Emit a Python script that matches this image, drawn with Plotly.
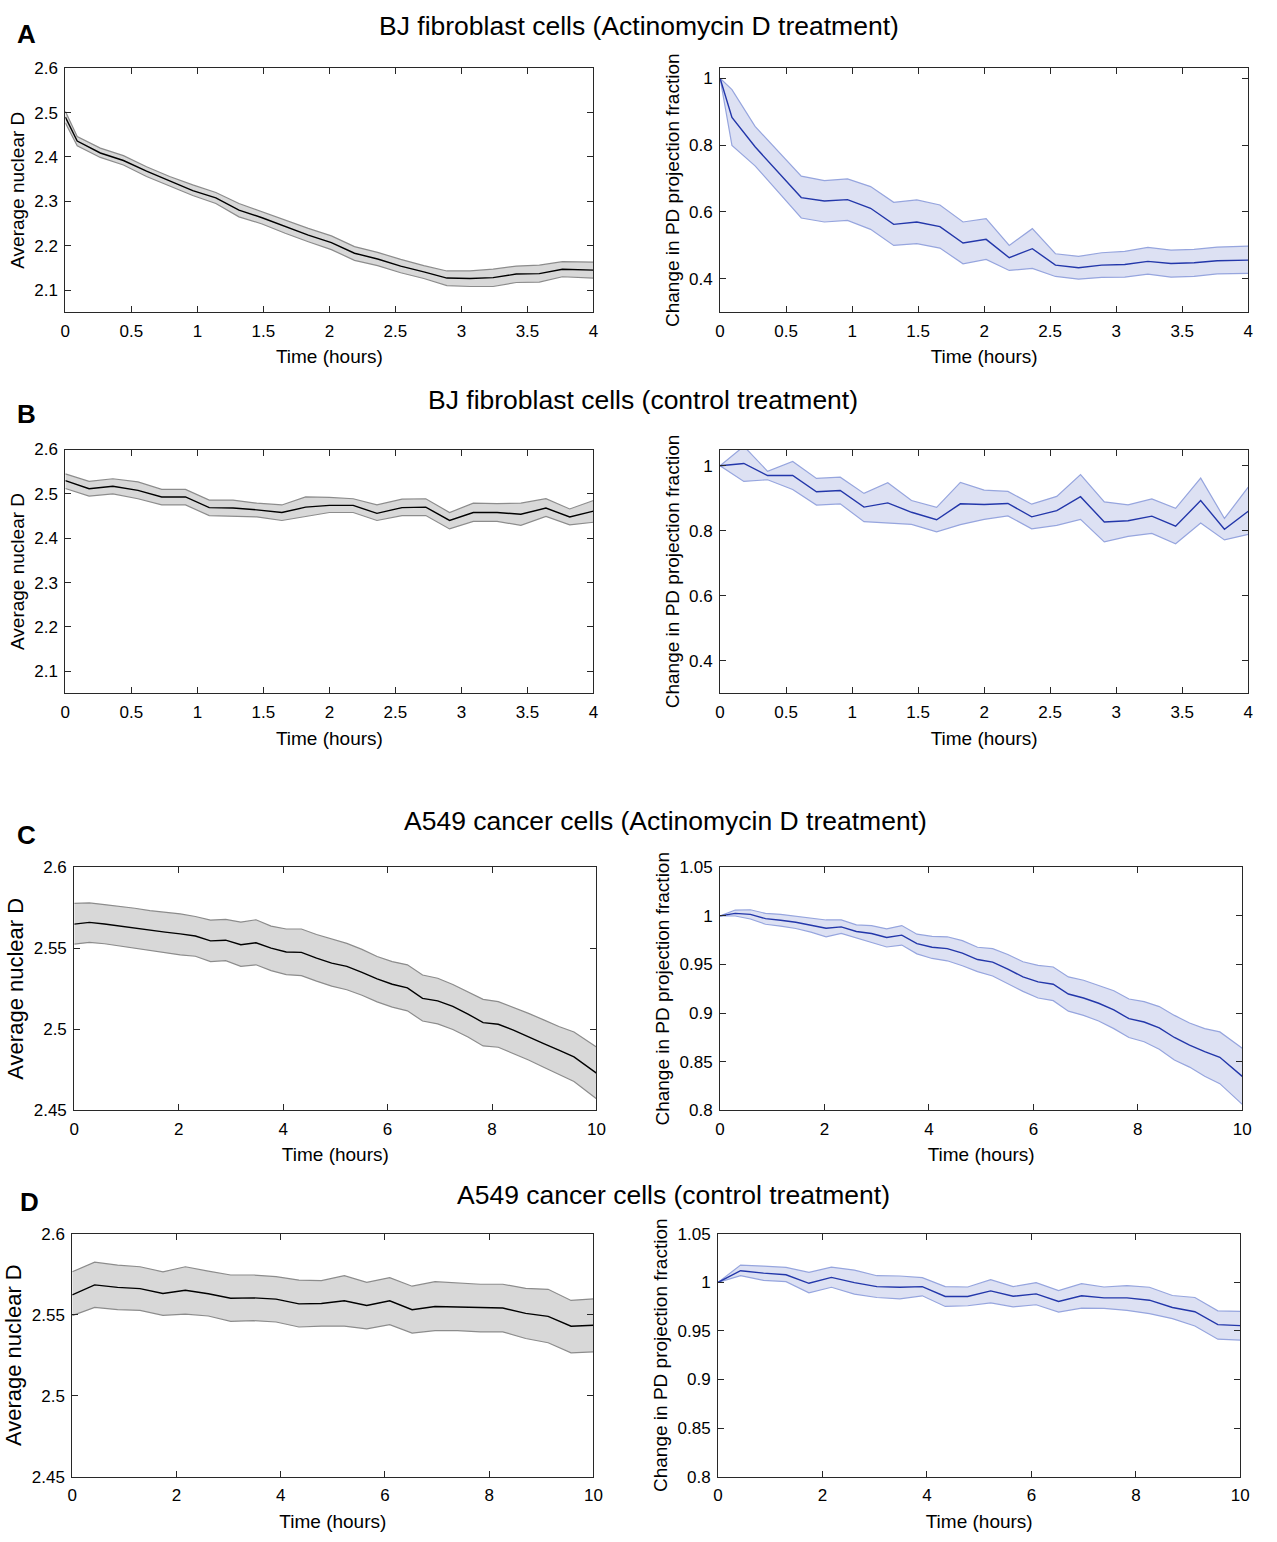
import plotly.graph_objects as go

W, H = 1277, 1542

# ---------------- data ----------------
# Panel A: BJ fibroblast cells (Actinomycin D treatment)
a_time = [0, 0.09, 0.265, 0.44, 0.615, 0.79, 0.965, 1.14, 1.315, 1.49, 1.665, 1.84,
          2.015, 2.19, 2.365, 2.54, 2.715, 2.89, 3.065, 3.24, 3.415, 3.59, 3.765, 4.0]
a_d_mean = [2.490, 2.436, 2.409, 2.392, 2.368, 2.346, 2.324, 2.308, 2.280, 2.263, 2.243, 2.224,
            2.207, 2.183, 2.170, 2.154, 2.141, 2.127, 2.126, 2.128, 2.136, 2.137, 2.147, 2.145]
a_d_upper = [2.503, 2.446, 2.420, 2.403, 2.378, 2.356, 2.337, 2.320, 2.295, 2.276, 2.258, 2.239,
             2.222, 2.198, 2.185, 2.169, 2.155, 2.143, 2.143, 2.147, 2.154, 2.156, 2.164, 2.163]
a_d_lower = [2.477, 2.425, 2.399, 2.382, 2.356, 2.335, 2.313, 2.295, 2.265, 2.249, 2.228, 2.209,
             2.191, 2.167, 2.155, 2.139, 2.126, 2.110, 2.108, 2.108, 2.117, 2.118, 2.130, 2.127]
a_pd_mean = [1.0, 0.883, 0.795, 0.720, 0.643, 0.633, 0.637, 0.611, 0.563, 0.570, 0.556, 0.507,
             0.518, 0.463, 0.490, 0.441, 0.433, 0.441, 0.443, 0.452, 0.446, 0.448, 0.454, 0.456]
a_pd_upper = [1.0, 0.966, 0.856, 0.782, 0.707, 0.694, 0.699, 0.676, 0.629, 0.636, 0.621, 0.570,
              0.580, 0.500, 0.550, 0.475, 0.467, 0.478, 0.482, 0.494, 0.486, 0.488, 0.495, 0.498]
a_pd_lower = [1.0, 0.799, 0.738, 0.660, 0.582, 0.570, 0.575, 0.548, 0.500, 0.505, 0.492, 0.445,
              0.458, 0.425, 0.431, 0.407, 0.399, 0.404, 0.405, 0.414, 0.405, 0.407, 0.415, 0.416]

# Panel B: BJ fibroblast cells (control treatment)
b_time = [0, 0.18, 0.36, 0.55, 0.73, 0.91, 1.09, 1.27, 1.45, 1.64, 1.82, 2.0,
          2.18, 2.36, 2.55, 2.73, 2.91, 3.09, 3.27, 3.45, 3.64, 3.82, 4.0]
b_d_mean = [2.530, 2.5115, 2.517, 2.508, 2.493, 2.493, 2.469, 2.468, 2.464, 2.458, 2.470, 2.474,
            2.474, 2.456, 2.469, 2.470, 2.440, 2.458, 2.458, 2.454, 2.468, 2.448, 2.461]
b_d_upper = [2.545, 2.528, 2.534, 2.527, 2.510, 2.510, 2.486, 2.486, 2.479, 2.475, 2.493, 2.492,
             2.489, 2.475, 2.488, 2.489, 2.458, 2.479, 2.478, 2.479, 2.489, 2.466, 2.485]
b_d_lower = [2.512, 2.495, 2.500, 2.489, 2.475, 2.475, 2.451, 2.450, 2.448, 2.440, 2.449, 2.458,
             2.458, 2.440, 2.451, 2.451, 2.421, 2.438, 2.438, 2.429, 2.449, 2.430, 2.436]
b_pd_mean = [1.0, 1.007, 0.970, 0.970, 0.920, 0.924, 0.873, 0.886, 0.857, 0.834, 0.883, 0.881,
             0.884, 0.843, 0.862, 0.905, 0.827, 0.831, 0.845, 0.814, 0.893, 0.805, 0.860]
b_pd_upper = [1.0, 1.060, 0.983, 1.013, 0.961, 0.965, 0.915, 0.948, 0.893, 0.872, 0.949, 0.925,
              0.921, 0.882, 0.906, 0.973, 0.889, 0.880, 0.898, 0.869, 0.962, 0.838, 0.934]
b_pd_lower = [1.0, 0.952, 0.957, 0.927, 0.879, 0.883, 0.828, 0.824, 0.820, 0.797, 0.819, 0.835,
              0.846, 0.806, 0.817, 0.835, 0.766, 0.783, 0.792, 0.760, 0.824, 0.772, 0.789]

# Panel C: A549 cancer cells (Actinomycin D treatment)
c_time = [0, 0.29, 0.58, 0.87, 1.16, 1.45, 1.74, 2.03, 2.32, 2.61, 2.9, 3.19, 3.48, 3.77,
          4.06, 4.35, 4.64, 4.93, 5.22, 5.51, 5.8, 6.09, 6.38, 6.67, 6.96, 7.25, 7.54, 7.83,
          8.12, 8.41, 8.7, 8.99, 9.28, 9.57, 10.0]
c_d_mean = [2.5649, 2.5660, 2.5650, 2.5637, 2.5623, 2.5610, 2.5600, 2.5589, 2.5576, 2.5546,
            2.5550, 2.5522, 2.5534, 2.5501, 2.5477, 2.5475, 2.5439, 2.5408, 2.5388, 2.5351,
            2.5311, 2.5278, 2.5256, 2.5191, 2.5175, 2.5141, 2.5094, 2.5041, 2.5031, 2.4995,
            2.4956, 2.4912, 2.4871, 2.4830, 2.4729]
c_d_upper = [2.5777, 2.5780, 2.5770, 2.5760, 2.5747, 2.5732, 2.5722, 2.5712, 2.5696, 2.5674,
             2.5678, 2.5662, 2.5676, 2.5637, 2.5619, 2.5619, 2.5585, 2.5556, 2.5530, 2.5493,
             2.5449, 2.5418, 2.5398, 2.5335, 2.5315, 2.5276, 2.5230, 2.5185, 2.5171, 2.5135,
             2.5098, 2.5058, 2.5017, 2.4983, 2.4891]
c_d_lower = [2.5526, 2.5536, 2.5528, 2.5514, 2.5500, 2.5485, 2.5473, 2.5459, 2.5451, 2.5418,
             2.5424, 2.5388, 2.5398, 2.5362, 2.5337, 2.5331, 2.5297, 2.5266, 2.5244, 2.5210,
             2.5169, 2.5137, 2.5114, 2.5051, 2.5033, 2.4999, 2.4952, 2.4897, 2.4889, 2.4851,
             2.4810, 2.4766, 2.4723, 2.4678, 2.4571]
c_pd_mean = [1.0, 1.0026, 1.0016, 0.9972, 0.9955, 0.9934, 0.9904, 0.9873, 0.9887, 0.9839,
             0.9819, 0.9778, 0.9802, 0.9714, 0.9677, 0.9663, 0.9616, 0.9551, 0.9524, 0.9453,
             0.9372, 0.9321, 0.9297, 0.9196, 0.9155, 0.9101, 0.9033, 0.8942, 0.8908, 0.8847,
             0.8749, 0.8671, 0.8603, 0.8545, 0.8349]
c_pd_upper = [1.0, 1.0060, 1.0063, 1.0026, 1.0016, 0.9999, 0.9975, 0.9958, 0.9958, 0.9907,
              0.9900, 0.9867, 0.9900, 0.9812, 0.9789, 0.9785, 0.9745, 0.9677, 0.9663, 0.9602,
              0.9528, 0.9490, 0.9474, 0.9372, 0.9338, 0.9287, 0.9230, 0.9145, 0.9118, 0.9067,
              0.8976, 0.8898, 0.8840, 0.8806, 0.8637]
c_pd_lower = [1.0, 0.9999, 0.9968, 0.9914, 0.9894, 0.9870, 0.9833, 0.9785, 0.9819, 0.9772,
              0.9731, 0.9680, 0.9700, 0.9609, 0.9562, 0.9538, 0.9487, 0.9426, 0.9382, 0.9304,
              0.9223, 0.9155, 0.9128, 0.9020, 0.8976, 0.8918, 0.8840, 0.8749, 0.8705, 0.8627,
              0.8518, 0.8444, 0.8349, 0.8274, 0.8061]

# Panel D: A549 cancer cells (control treatment)
d_time = [0, 0.43, 0.87, 1.3, 1.74, 2.17, 2.61, 3.04, 3.48, 3.91, 4.35, 4.78,
          5.22, 5.65, 6.09, 6.52, 6.96, 7.39, 7.83, 8.26, 8.7, 9.13, 9.57, 10.0]
d_d_mean = [2.5622, 2.5684, 2.5669, 2.5661, 2.5631, 2.5651, 2.5629, 2.5602, 2.5604, 2.5596,
            2.5567, 2.5569, 2.5586, 2.5557, 2.5586, 2.5531, 2.5551, 2.5547, 2.5541, 2.5541,
            2.5508, 2.5490, 2.5429, 2.5435]
d_d_upper = [2.5765, 2.5824, 2.5806, 2.5796, 2.5765, 2.5796, 2.5769, 2.5745, 2.5745, 2.5735,
             2.5714, 2.5710, 2.5741, 2.5700, 2.5729, 2.5676, 2.5704, 2.5694, 2.5688, 2.5688,
             2.5663, 2.5657, 2.5588, 2.5598]
d_d_lower = [2.5494, 2.5545, 2.5531, 2.5527, 2.5496, 2.5504, 2.5492, 2.5459, 2.5463, 2.5455,
             2.5424, 2.5429, 2.5429, 2.5412, 2.5439, 2.5386, 2.5402, 2.5402, 2.5394, 2.5394,
             2.5353, 2.5327, 2.5265, 2.5271]
d_pd_mean = [1.0, 1.0119, 1.0095, 1.0078, 0.9990, 1.0051, 0.9997, 0.9956, 0.9949, 0.9956,
             0.9854, 0.9854, 0.9912, 0.9857, 0.9881, 0.9803, 0.9861, 0.9840, 0.9840, 0.9816,
             0.9741, 0.9697, 0.9565, 0.9554]
d_pd_upper = [1.0, 1.0177, 1.0167, 1.0153, 1.0102, 1.0156, 1.0126, 1.0068, 1.0065, 1.0048,
              0.9956, 0.9952, 1.0027, 0.9956, 0.9997, 0.9915, 0.9986, 0.9952, 0.9966, 0.9949,
              0.9864, 0.9844, 0.9707, 0.9701]
d_pd_lower = [1.0, 1.0068, 1.0020, 1.0007, 0.9891, 0.9949, 0.9878, 0.9844, 0.9830, 0.9861,
              0.9752, 0.9759, 0.9789, 0.9748, 0.9769, 0.9694, 0.9735, 0.9731, 0.9711, 0.9677,
              0.9626, 0.9551, 0.9415, 0.9405]

row_titles = ["BJ fibroblast cells (Actinomycin D treatment)",
              "BJ fibroblast cells (control treatment)",
              "A549 cancer cells (Actinomycin D treatment)",
              "A549 cancer cells (control treatment)"]
panel_letters = ["A", "B", "C", "D"]
x_title = "Time (hours)"
y_title_left = "Average nuclear D"
y_title_right = "Change in PD projection fraction"

# ---------------- styling ----------------
FONT = "Liberation Sans, Arial, Helvetica, sans-serif"
GRAY_FILL = "rgb(216,216,216)"
GRAY_EDGE = "rgb(140,140,140)"
BLUE_FILL = "rgb(221,225,243)"
BLUE_EDGE = "rgb(150,165,222)"
BLUE_LINE = "rgb(35,55,170)"
AXIS_COL = "rgb(40,40,40)"

fig = go.Figure()


def dom(x0, x1, y0, y1):
    return [x0 / W, x1 / W], [1 - y1 / H, 1 - y0 / H]


panels = [
    dict(box=(61, 595, 60, 307), t=a_time, m=a_d_mean, u=a_d_upper, l=a_d_lower, kind="gray",
         xr=[0, 4], xd=0.5, yr=[2.05, 2.6], yt0=2.1, yd=0.1, yt=y_title_left, ys=19),
    dict(box=(723, 1257, 60, 307), t=a_time, m=a_pd_mean, u=a_pd_upper, l=a_pd_lower, kind="blue",
         xr=[0, 4], xd=0.5, yr=[0.3, 1.03], yt0=0.4, yd=0.2, yt=y_title_right, ys=19),
    dict(box=(61, 595, 446, 693), t=b_time, m=b_d_mean, u=b_d_upper, l=b_d_lower, kind="gray",
         xr=[0, 4], xd=0.5, yr=[2.05, 2.6], yt0=2.1, yd=0.1, yt=y_title_left, ys=19),
    dict(box=(723, 1257, 446, 693), t=b_time, m=b_pd_mean, u=b_pd_upper, l=b_pd_lower, kind="blue",
         xr=[0, 4], xd=0.5, yr=[0.3, 1.05], yt0=0.4, yd=0.2, yt=y_title_right, ys=19),
    dict(box=(70, 598, 869, 1115), t=c_time, m=c_d_mean, u=c_d_upper, l=c_d_lower, kind="gray",
         xr=[0, 10], xd=2, yr=[2.45, 2.6], yt0=2.45, yd=0.05, yt=y_title_left, ys=22),
    dict(box=(723, 1251, 869, 1115), t=c_time, m=c_pd_mean, u=c_pd_upper, l=c_pd_lower, kind="blue",
         xr=[0, 10], xd=2, yr=[0.8, 1.05], yt0=0.8, yd=0.05, yt=y_title_right, ys=19),
    dict(box=(68, 595, 1240, 1486), t=d_time, m=d_d_mean, u=d_d_upper, l=d_d_lower, kind="gray",
         xr=[0, 10], xd=2, yr=[2.45, 2.6], yt0=2.45, yd=0.05, yt=y_title_left, ys=22),
    dict(box=(721, 1249, 1240, 1486), t=d_time, m=d_pd_mean, u=d_pd_upper, l=d_pd_lower, kind="blue",
         xr=[0, 10], xd=2, yr=[0.8, 1.05], yt0=0.8, yd=0.05, yt=y_title_right, ys=19),
]

layout_axes = {}
for i, p in enumerate(panels):
    n = i + 1
    xa = "x" if n == 1 else f"x{n}"
    ya = "y" if n == 1 else f"y{n}"
    if p["kind"] == "gray":
        fill, edge, line = GRAY_FILL, GRAY_EDGE, "black"
    else:
        fill, edge, line = BLUE_FILL, BLUE_EDGE, BLUE_LINE
    fig.add_trace(go.Scatter(x=p["t"], y=p["l"], xaxis=xa, yaxis=ya, mode="lines",
                             line=dict(color=edge, width=1.2), showlegend=False,
                             hoverinfo="skip"))
    fig.add_trace(go.Scatter(x=p["t"], y=p["u"], xaxis=xa, yaxis=ya, mode="lines",
                             line=dict(color=edge, width=1.2), fill="tonexty",
                             fillcolor=fill, showlegend=False, hoverinfo="skip"))
    fig.add_trace(go.Scatter(x=p["t"], y=p["m"], xaxis=xa, yaxis=ya, mode="lines",
                             line=dict(color=line, width=1.4), showlegend=False))
    xd_, yd_ = dom(*p["box"])
    common = dict(showline=True, linecolor=AXIS_COL, linewidth=1, mirror="ticks",
                  ticks="inside", ticklen=6, tickcolor=AXIS_COL, showgrid=False,
                  zeroline=False, tickfont=dict(family=FONT, size=17, color="black"))
    layout_axes["xaxis" if n == 1 else f"xaxis{n}"] = dict(
        domain=xd_, anchor=ya, range=p["xr"], tick0=0, dtick=p["xd"], ticklabelstandoff=3,
        title=dict(text=x_title, font=dict(family=FONT, size=19, color="black"), standoff=10),
        **common)
    layout_axes["yaxis" if n == 1 else f"yaxis{n}"] = dict(
        domain=yd_, anchor=xa, range=p["yr"], tick0=p["yt0"], dtick=p["yd"], ticklabelstandoff=3,
        title=dict(text=p["yt"], font=dict(family=FONT, size=p["ys"], color="black"), standoff=4),
        **common)

annotations = []
title_pos = [(641, 17), (645, 396), (668, 822), (676, 1201)]
letter_pos = [(22, 25), (22, 410), (22, 836), (25, 1208)]
for txt, (cx, cy) in zip(row_titles, title_pos):
    annotations.append(dict(text=txt, x=cx / W, y=1 - cy / H, xref="paper", yref="paper",
                            xanchor="center", yanchor="middle", showarrow=False,
                            font=dict(family=FONT, size=26.5, color="black")))
for txt, (cx, cy) in zip(panel_letters, letter_pos):
    annotations.append(dict(text=f"<b>{txt}</b>", x=cx / W, y=1 - cy / H, xref="paper",
                            yref="paper", xanchor="center", yanchor="middle", showarrow=False,
                            font=dict(family=FONT, size=26, color="black")))

fig.update_layout(width=W, height=H, margin=dict(l=0, r=0, t=0, b=0),
                  paper_bgcolor="white", plot_bgcolor="white",
                  annotations=annotations, hovermode=False, **layout_axes)

fig.write_html("out.html", config={"displayModeBar": False},
               post_script="document.body.style.margin='0';document.body.style.overflow='hidden';")
